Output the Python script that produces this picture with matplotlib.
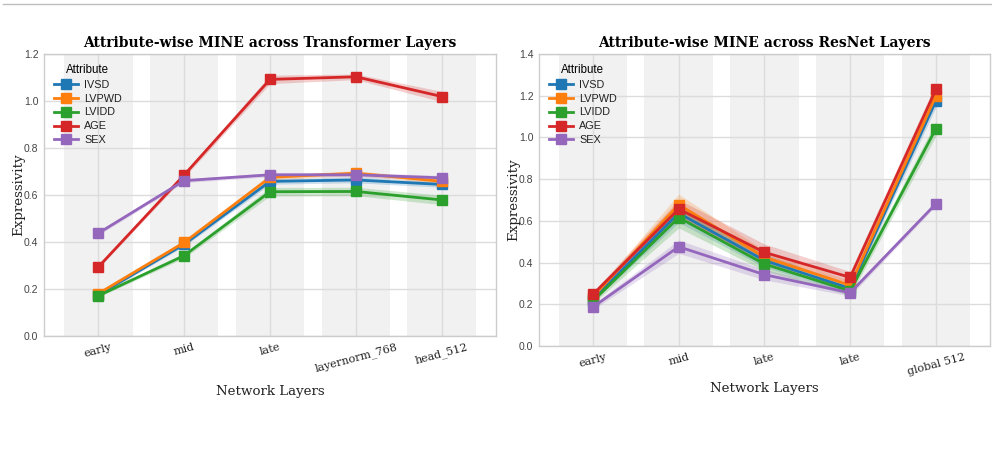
import matplotlib
matplotlib.use("Agg")
import matplotlib.pyplot as plt
from matplotlib.lines import Line2D
import numpy as np

attributes = ["IVSD", "LVPWD", "LVIDD", "AGE", "SEX"]
colors = ["#1f77b4", "#ff7f0e", "#2ca02c", "#d62728", "#9467bd"]

# Transformer layers
tf_layers = ["early", "mid", "late", "layernorm_768", "head_512"]
tf_ivsd = [0.175, 0.390, 0.658, 0.664, 0.645]
tf_lvpwd = [0.180, 0.398, 0.675, 0.693, 0.658]
tf_lvidd = [0.171, 0.342, 0.614, 0.615, 0.579]
tf_age = [0.293, 0.685, 1.092, 1.103, 1.019]
tf_sex = [0.437, 0.661, 0.686, 0.686, 0.673]
tf_err_ivsd = [0.006, 0.008, 0.012, 0.012, 0.012]
tf_err_lvpwd = [0.006, 0.008, 0.010, 0.010, 0.010]
tf_err_lvidd = [0.006, 0.010, 0.018, 0.018, 0.020]
tf_err_age = [0.006, 0.010, 0.018, 0.012, 0.022]
tf_err_sex = [0.008, 0.008, 0.008, 0.010, 0.010]

# ResNet layers
rn_layers = ["early", "mid", "late", "late", "global 512"]
rn_ivsd = [0.226, 0.637, 0.410, 0.276, 1.175]
rn_lvpwd = [0.236, 0.678, 0.426, 0.291, 1.199]
rn_lvidd = [0.216, 0.616, 0.393, 0.264, 1.042]
rn_age = [0.248, 0.657, 0.449, 0.329, 1.230]
rn_sex = [0.187, 0.476, 0.342, 0.255, 0.682]
rn_err_ivsd = [0.012, 0.045, 0.032, 0.020, 0.030]
rn_err_lvpwd = [0.012, 0.050, 0.032, 0.022, 0.030]
rn_err_lvidd = [0.012, 0.050, 0.032, 0.022, 0.035]
rn_err_age = [0.012, 0.045, 0.040, 0.028, 0.030]
rn_err_sex = [0.012, 0.032, 0.025, 0.015, 0.010]

tf_values = [tf_ivsd, tf_lvpwd, tf_lvidd, tf_age, tf_sex]
tf_errors = [tf_err_ivsd, tf_err_lvpwd, tf_err_lvidd, tf_err_age, tf_err_sex]
rn_values = [rn_ivsd, rn_lvpwd, rn_lvidd, rn_age, rn_sex]
rn_errors = [rn_err_ivsd, rn_err_lvpwd, rn_err_lvidd, rn_err_age, rn_err_sex]

SANS = ["Liberation Sans", "DejaVu Sans"]
SERIF = ["DejaVu Serif"]

fig = plt.figure(figsize=(9.92, 4.70), dpi=100)
fig.patch.set_facecolor("white")

# thin rule across the top of the figure
fig.add_artist(Line2D([0.003, 1.0], [0.9915, 0.9915], transform=fig.transFigure,
                      color="#bdbdbd", lw=1.0))


def draw_panel(ax, layers, values, errors, title, ymax, xlabelpad):
    x = np.arange(len(layers))
    ax.set_facecolor("white")
    for xi in x:
        ax.axvspan(xi - 0.4, xi + 0.4, color="#f1f1f1", zorder=0, lw=0)
    ax.grid(True, color="#dcdcdc", lw=1.0, zorder=1)
    ax.set_axisbelow(True)
    for name, vals, errs, c in zip(attributes, values, errors, colors):
        v = np.array(vals)
        e = np.array(errs)
        ax.fill_between(x, v - e, v + e, color=c, alpha=0.22, lw=0, zorder=2)
        ax.plot(x, v, color=c, lw=2.0, marker="s", markersize=7, label=name, zorder=3)
    ax.set_xlim(-0.63, len(layers) - 0.37)
    ax.set_ylim(0, ymax)
    ticks = np.arange(0, ymax + 0.001, 0.2)
    ax.set_yticks(ticks)
    ax.set_yticklabels([f"{t:.1f}" for t in ticks],
                       family=SANS, fontsize=7.5, color="#444444")
    ax.set_xticks(x)
    ax.set_xticklabels(layers, rotation=15, family=SERIF, fontsize=8, color="#222222")
    ax.tick_params(length=0, pad=4)
    for s in ax.spines.values():
        s.set_color("#cccccc")
        s.set_linewidth(1.0)
    ax.set_title(title, family=SERIF, fontweight="bold", fontsize=10, pad=5)
    ax.set_xlabel("Network Layers", family=SERIF, fontsize=9.6, color="#222222",
                  labelpad=xlabelpad)
    ax.set_ylabel("Expressivity", family=SERIF, fontsize=9.6, color="#222222",
                  labelpad=-1)
    leg = ax.legend(title="Attribute", loc="upper left", frameon=False,
                    prop={"family": SANS, "size": 7.8}, handlelength=2.2,
                    handletextpad=0.6, borderaxespad=0.3, labelspacing=0.36,
                    borderpad=0.6)
    leg.get_title().set_fontfamily(SANS)
    leg.get_title().set_fontsize(8.3)
    for t in leg.get_texts():
        t.set_color("#222222")


ax1 = fig.add_axes([0.0444, 0.2851, 0.4556, 0.6000])
draw_panel(ax1, tf_layers, tf_values, tf_errors,
           "Attribute-wise MINE across Transformer Layers", 1.2, 8)

ax2 = fig.add_axes([0.5433, 0.2638, 0.4546, 0.6213])
draw_panel(ax2, rn_layers, rn_values, rn_errors,
           "Attribute-wise MINE across ResNet Layers", 1.4, 4)

fig.savefig("out.png", dpi=100)
